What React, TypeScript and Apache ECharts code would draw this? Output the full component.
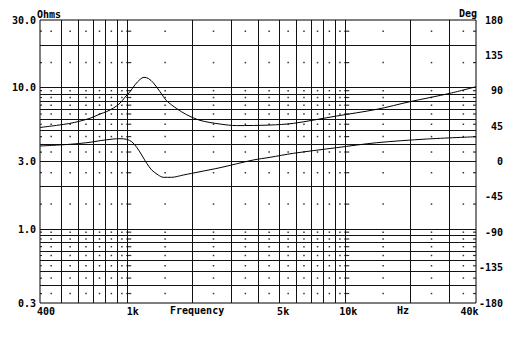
import React, { useEffect, useRef } from 'react';
import * as echarts from 'echarts';

// Impedance magnitude (Ohms) vs frequency (Hz)
const impFreq = [400, 549, 678, 754, 809, 868, 931, 982, 1035, 1091, 1150, 1200, 1256, 1324, 1421, 1525, 1695, 1884, 2168, 2676, 3193, 4540, 5808, 9183, 14021, 19910, 30400, 40000];
const impOhms = [5.22, 5.58, 6.06, 6.5, 6.76, 7.15, 7.75, 8.55, 9.34, 10.45, 11.4, 11.8, 11.6, 10.8, 9.34, 8.05, 7.1, 6.42, 5.86, 5.52, 5.38, 5.43, 5.58, 6.29, 7.01, 7.94, 9.1, 10.13];

// Phase (degrees) vs frequency (Hz)
const phaseFreq = [400, 549, 678, 754, 868, 931, 1000, 1054, 1111, 1171, 1235, 1301, 1395, 1471, 1608, 1817, 2168, 2676, 3804, 4540, 5808, 9183, 14021, 23770, 40000];
const phaseDeg = [19.7, 21.9, 24.4, 26.5, 28.6, 29.0, 28.2, 25.2, 18.1, 8.3, -2.3, -10.8, -17.2, -20.1, -20.1, -17.2, -13.0, -7.9, 1.9, 5.3, 10.4, 17.6, 23.9, 28.6, 31.5];

// Grid lines
const freqGrid = [500, 600, 700, 800, 900, 1000, 2000, 3000, 4000, 5000, 6000, 7000, 8000, 9000, 10000, 20000, 30000];
const ohmGrid = [0.4, 0.5, 0.6, 0.7, 0.8, 0.9, 1, 2, 3, 4, 5, 6, 7, 8, 9, 10, 20];

// Dotted minor grid
const freqDots = [450, 550, 650, 750, 850, 950, 1500, 2500, 3500, 4500, 5500, 6500, 7500, 8500, 9500, 15000, 25000, 35000];
const ohmDots = [0.35, 0.45, 0.55, 0.65, 0.75, 0.85, 0.95, 1.5, 2.5, 3.5, 4.5, 5.5, 6.5, 7.5, 8.5, 9.5, 15, 25];
const freqDashes = [1000, 10000];

// Tick labels
const freqLabels = [400, 1000, 5000, 10000, 40000];
const freqLabelText = ['400', '1k', '5k', '10k', '40k'];
const freqLabelStyle = ['a', 'a', 'b', 'c', 'd'];
const ohmLabels = [0.3, 1, 3, 10, 30];
const degMin = -180;
const degMax = 180;
const degStep = 45;

const L = (v: number) => Math.log10(v);
const FONT = '"DejaVu Sans Mono", "Liberation Mono", monospace';

export default function App() {
  const ref = useRef<HTMLDivElement>(null);
  useEffect(() => {
    if (!ref.current) return;
    const chart = echarts.init(ref.current, null, { renderer: 'svg' });

    const dots: number[][] = [];
    freqDots.forEach((f) => ohmDots.forEach((o) => dots.push([L(f), L(o)])));
    const dashes: number[][] = [];
    freqDashes.forEach((f) => ohmDots.forEach((o) => dashes.push([L(f), L(o)])));
    const rightTicks: number[][] = ohmDots.map((o) => [L(40000), L(o)]);
    const leftTicks: number[][] = ohmDots.map((o) => [L(400), L(o)]);

    const labelFont = { color: '#000', fontFamily: FONT, fontWeight: 'bold' as const, fontSize: 10 };

    chart.setOption({
      animation: false,
      backgroundColor: '#fff',
      grid: { left: 40, right: 53, top: 20, bottom: 43, show: true, borderColor: '#000', borderWidth: 1, backgroundColor: 'transparent' },
      xAxis: {
        type: 'value',
        min: L(400),
        max: L(40000),
        axisLine: { show: false },
        axisTick: { show: false, customValues: freqGrid.map(L) },
        splitLine: { show: true, lineStyle: { color: '#111', width: 1 } },
        axisLabel: {
          ...labelFont,
          margin: 3,
          customValues: freqLabels.map(L),
          formatter: (v: number) => {
            const i = freqLabels.findIndex((f) => Math.abs(L(f) - v) < 1e-6);
            if (i < 0) return '';
            return '{' + freqLabelStyle[i] + '|' + freqLabelText[i] + '}';
          },
          rich: {
            a: { ...labelFont, padding: [0, 0, 0, 12] },
            b: { ...labelFont, padding: [0, 0, 0, 8] },
            c: { ...labelFont, padding: [0, 0, 0, 7] },
            d: { ...labelFont, padding: [0, 13, 0, 0] },
          },
        },
      },
      yAxis: [
        {
          type: 'value',
          min: L(0.3),
          max: L(30),
          position: 'left',
          axisLine: { show: false },
          axisTick: { show: false, customValues: ohmGrid.map(L) },
          splitLine: { show: true, lineStyle: { color: '#111', width: 1 } },
          axisLabel: {
            ...labelFont,
            margin: 4,
            customValues: ohmLabels.map(L),
            formatter: (v: number) => Math.pow(10, v).toFixed(1),
          },
        },
        {
          type: 'value',
          min: degMin,
          max: degMax,
          interval: degStep,
          position: 'right',
          axisLine: { show: false },
          axisTick: { show: false },
          splitLine: { show: false },
          axisLabel: { ...labelFont, margin: 27, align: 'right' },
        },
      ],
      graphic: [
        { type: 'text', x: 37, y: 14, style: { text: 'Ohms', font: 'bold 10px ' + FONT, fill: '#000', align: 'left', verticalAlign: 'middle' } },
        { type: 'text', x: 477, y: 13, style: { text: 'Deg', font: 'bold 10px ' + FONT, fill: '#000', align: 'right', verticalAlign: 'middle' } },
        { type: 'text', x: 170, y: 310, style: { text: 'Frequency', font: 'bold 10px ' + FONT, fill: '#000', align: 'left', verticalAlign: 'middle' } },
        { type: 'text', x: 397, y: 310, style: { text: 'Hz', font: 'bold 10px ' + FONT, fill: '#000', align: 'left', verticalAlign: 'middle' } },
      ],
      series: [
        {
          type: 'scatter',
          silent: true,
          symbol: 'rect',
          symbolSize: 1.5,
          itemStyle: { color: '#000' },
          data: dots,
          z: 1,
        },
        {
          type: 'scatter',
          silent: true,
          symbol: 'rect',
          symbolSize: [5, 1.2],
          symbolOffset: [2, 0],
          itemStyle: { color: '#000' },
          data: dashes,
          z: 1,
        },
        {
          type: 'scatter',
          silent: true,
          symbol: 'rect',
          symbolSize: [3, 1.2],
          symbolOffset: [-1.5, 0],
          itemStyle: { color: '#000' },
          data: rightTicks,
          z: 1,
        },
        {
          type: 'scatter',
          silent: true,
          symbol: 'rect',
          symbolSize: [2, 1.2],
          symbolOffset: [1, 0],
          itemStyle: { color: '#000' },
          data: leftTicks,
          z: 1,
        },
        {
          type: 'line',
          yAxisIndex: 0,
          data: impFreq.map((f, i) => [L(f), L(impOhms[i])]),
          smooth: 0.3,
          symbol: 'none',
          lineStyle: { color: '#000', width: 1 },
          z: 3,
        },
        {
          type: 'line',
          yAxisIndex: 1,
          data: phaseFreq.map((f, i) => [L(f), phaseDeg[i]]),
          smooth: 0.3,
          symbol: 'none',
          lineStyle: { color: '#000', width: 1 },
          z: 3,
        },
      ],
    });
    return () => chart.dispose();
  }, []);
  return <div ref={ref} style={{ position: 'fixed', left: 0, top: 0, width: 529, height: 346 }} />;
}
